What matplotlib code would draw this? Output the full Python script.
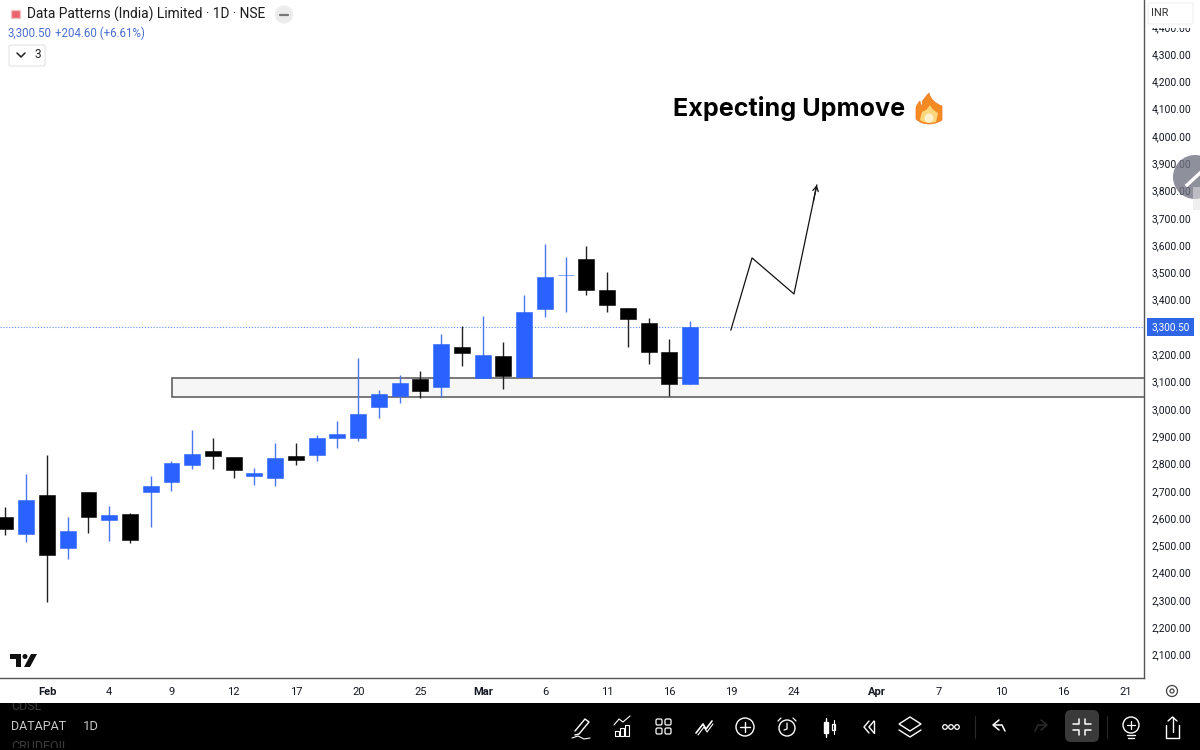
import matplotlib
matplotlib.use("Agg")
import matplotlib.pyplot as plt
from matplotlib.patches import Rectangle, Circle, FancyBboxPatch, PathPatch, Polygon
from matplotlib.path import Path

plt.rcParams['font.family'] = ['Roboto', 'DejaVu Sans']

# daily candles
opens = [2605, 2541, 2685, 2489, 2695, 2593, 2614, 2696, 2733, 2796, 2846, 2823, 2754, 2748, 2826, 2830, 2895,
         2893, 3008, 3048, 3110, 3081, 3226, 3114, 3193, 3118, 3365, 3489, 3550, 3437, 3368, 3315, 3210, 3092]
highs = [2640, 2760, 2831, 2605, 2697, 2645, 2618, 2754, 2810, 2923, 2892, 2823, 2785, 2874, 2876, 2905, 2956,
         3186, 3069, 3124, 3139, 3274, 3305, 3341, 3244, 3417, 3604, 3555, 3597, 3500, 3368, 3332, 3256, 3323]
lows = [2538, 2512, 2294, 2450, 2544, 2516, 2508, 2569, 2698, 2781, 2781, 2748, 2720, 2719, 2793, 2808, 2856,
        2882, 2967, 3023, 3039, 3045, 3158, 3114, 3074, 3118, 3338, 3356, 3417, 3355, 3226, 3166, 3047, 3092]
closes = [2559, 2666, 2465, 2554, 2603, 2612, 2519, 2718, 2801, 2835, 2826, 2777, 2764, 2821, 2812, 2893, 2909,
          2981, 3055, 3094, 3064, 3237, 3205, 3199, 3122, 3354, 3484, 3492, 3436, 3379, 3328, 3208, 3090, 3300.5]

x_tick_pos = [2, 5, 8, 11, 14, 17, 20, 23, 26, 29, 32, 35, 38, 42, 45, 48, 51, 54]
x_tick_labels = ['Feb', '4', '9', '12', '17', '20', '25', 'Mar', '6', '11', '16', '19', '24', 'Apr', '7', '10', '16', '21']
y_ticks = list(range(2100, 4500, 100))

zone_x = 8.02
zone_low = 3044
zone_high = 3113
last_price = 3300.5
path_x = [34.96, 35.98, 38.0, 39.1]
path_y = [3289, 3553, 3421, 3820]

BLUE = '#2962ff'
BLACK = '#000000'
TEXT = '#131722'

fig = plt.figure(figsize=(12, 7.5), dpi=100, facecolor='white')
ax = fig.add_axes([0, 72 / 750, 1144 / 1200, 678 / 750])
ax.set_xlim(-0.265, 54.87)
ax.set_ylim(2014, 4498)

ax.add_patch(Rectangle((zone_x, zone_low), 60, zone_high - zone_low, facecolor='#f6f6f6',
                       edgecolor='#555555', linewidth=1.1, zorder=1))
ax.axhline(last_price, color='#5b8ef0', linestyle=(0, (1, 1.6)), linewidth=0.8, zorder=1)

for i in range(len(opens)):
    up = closes[i] >= opens[i]
    color = BLUE if up else BLACK
    ax.vlines(i, lows[i], highs[i], color='#4a78f0' if up else '#222222', linewidth=1.0, zorder=2)
    ax.bar(i, abs(closes[i] - opens[i]), bottom=min(opens[i], closes[i]), width=0.77, color=color,
           edgecolor=color, linewidth=0.4, zorder=3)

ax.plot(path_x, path_y, color='#111111', linewidth=0.9, zorder=4)
ax.annotate('', xy=(path_x[-1], path_y[-1]),
            xytext=(path_x[-2] + 0.85 * (path_x[-1] - path_x[-2]), path_y[-2] + 0.85 * (path_y[-1] - path_y[-2])),
            arrowprops=dict(arrowstyle='->,head_width=0.2,head_length=0.35', color='#111111', linewidth=0.9,
                            shrinkA=0, shrinkB=0))

ax.text(32.17, 4102, 'Expecting Upmove', family=['Inter', 'DejaVu Sans'], fontsize=18.1, fontweight='bold',
        color='#000000', ha='left', va='center', zorder=5)

ax.yaxis.tick_right()
ax.set_yticks(y_ticks)
ax.set_yticklabels([f'{v:,.2f}' for v in y_ticks], fontsize=7.4, color=TEXT)
ax.set_xticks(x_tick_pos)
ax.set_xticklabels(x_tick_labels, fontsize=8.0, color=TEXT)
for lab in ax.get_xticklabels():
    if lab.get_text() in ('Feb', 'Mar', 'Apr'):
        lab.set_fontweight('bold')
ax.tick_params(axis='y', length=0, pad=5.5)
ax.tick_params(axis='x', length=0, pad=6.5)
for s in ('top', 'left'):
    ax.spines[s].set_visible(False)
for s in ('right', 'bottom'):
    ax.spines[s].set_color('#555555')
    ax.spines[s].set_linewidth(1.0)

ax.annotate(f'{last_price:,.2f}', xy=(1.0, last_price), xycoords=ax.get_yaxis_transform(), xytext=(5.5, 0),
            textcoords='offset points', fontsize=7.2, color='white', ha='left', va='center', annotation_clip=False,
            zorder=10, bbox=dict(boxstyle='square,pad=0.42', facecolor='#2f66e8', edgecolor='none'))
ax.get_yticklabels()[12].set_visible(False)

# screenshot chrome, in pixels
ov = fig.add_axes([0, 0, 1, 1])
ov.set_xlim(0, 1200)
ov.set_ylim(750, 0)
ov.axis('off')
ov.patch.set_alpha(0)


def line(xs, ys, color='white', lw=1.0):
    ov.plot(xs, ys, color=color, linewidth=lw, solid_capstyle='round')


# header
ov.add_patch(Rectangle((11, 10), 9, 8, facecolor='#e8646a', edgecolor='#f4c2c4', linewidth=1))
ov.text(27, 14, 'Data Patterns (India) Limited · 1D · NSE', fontsize=9.9, color='#1c1c1c', ha='left', va='center')
ov.add_patch(Circle((284, 14.5), 9, facecolor='#ececec', edgecolor='none'))
line([280, 288], [14.5, 14.5], '#777777', 1.6)
ov.text(7, 33, '3,300.50', fontsize=8.3, color='#4a6fd0', ha='left', va='center')
ov.text(55, 33, '+204.60 (+6.61%)', fontsize=8.3, color='#4a6fd0', ha='left', va='center')
ov.add_patch(FancyBboxPatch((9, 45), 36, 21, boxstyle='round,pad=0,rounding_size=2', facecolor='white',
                            edgecolor='#e6e6e6', linewidth=0.9))
line([17, 21, 25], [53, 57, 53], '#222222', 1.1)
ov.text(38, 55, '3', fontsize=8.6, color='#222222', ha='center', va='center')

# fire emoji
flame = Path([(929, 93), (931, 102), (942, 106), (942, 113), (942, 120), (936, 124), (929, 124),
              (921, 124), (916, 119), (916, 112), (916, 107), (918, 103), (920, 101), (920, 104), (922, 106), (923, 106),
              (922, 102), (925, 97), (929, 93), (929, 93)],
             [Path.MOVETO, Path.CURVE3, Path.CURVE3, Path.CURVE3, Path.CURVE3, Path.CURVE3, Path.CURVE3,
              Path.CURVE3, Path.CURVE3, Path.CURVE3, Path.CURVE3, Path.CURVE3, Path.CURVE3, Path.CURVE3, Path.CURVE3, Path.CURVE3,
              Path.CURVE3, Path.CURVE3, Path.CURVE3, Path.CLOSEPOLY])
ov.add_patch(PathPatch(flame, facecolor='#f58a22', edgecolor='#ee7a2a', linewidth=0.5))
inner = Path([(930, 105), (932, 110), (938, 113), (937, 118), (936, 122), (932, 123), (929, 123),
              (924, 123), (920, 120), (921, 115), (922, 112), (924, 111), (926, 110), (928, 108), (930, 105), (930, 105)],
             [Path.MOVETO, Path.CURVE3, Path.CURVE3, Path.CURVE3, Path.CURVE3, Path.CURVE3, Path.CURVE3,
              Path.CURVE3, Path.CURVE3, Path.CURVE3, Path.CURVE3, Path.CURVE3, Path.CURVE3, Path.CURVE3, Path.CURVE3, Path.CLOSEPOLY])
ov.add_patch(PathPatch(inner, facecolor='#fcd67a', edgecolor='none'))
ov.add_patch(Circle((929, 118), 4.5, facecolor='#fdf1d0', edgecolor='none'))

# tradingview logo
ov.add_patch(Polygon([(10, 654), (21, 654), (21, 667), (16, 667), (16, 659), (10, 659)], facecolor='#111111', edgecolor='none'))
ov.add_patch(Circle((25, 656.5), 2.5, facecolor='#111111', edgecolor='none'))
ov.add_patch(Polygon([(31, 654), (37, 654), (30, 667), (24, 667)], facecolor='#111111', edgecolor='none'))

# currency box and floating button
ov.add_patch(Rectangle((1147, 2), 48, 25.5, facecolor='white', edgecolor='none', zorder=6))
ov.add_patch(FancyBboxPatch((1148, 3), 45, 21, boxstyle='round,pad=0,rounding_size=2', facecolor='white',
                            edgecolor='#f0f0f0', linewidth=0.8, zorder=6))
ov.text(1151.5, 13.5, 'INR', fontsize=7.8, color='#333333', ha='left', va='center', zorder=7)
line([1187, 1189, 1191], [13, 15, 13], '#555555', 0.9)
ov.add_patch(Circle((1195, 177), 22, facecolor='#6f7180', edgecolor='none', alpha=0.78, zorder=6))
ov.plot([1187, 1200], [185, 173], color='white', linewidth=2.4, zorder=7)
ov.add_patch(Rectangle((1193, 187), 7, 23, facecolor='#e2e2e2', edgecolor='none', alpha=0.55, zorder=6))

# settings icon on the axis corner
ov.add_patch(Circle((1172, 691), 5.5, facecolor='none', edgecolor='#444444', linewidth=0.9))
ov.add_patch(Circle((1172, 691), 2, facecolor='none', edgecolor='#444444', linewidth=0.9))

# bottom toolbar
ov.add_patch(Rectangle((0, 703), 1200, 47, facecolor='#000000', edgecolor='none'))
side_clip = Rectangle((0, 703), 67, 45, transform=ov.transData)
for label, ypos, col in [('CDSL', 706, '#3c3c3c'), ('DATAPATNS', 726, '#c8c8c8'), ('CRUDEOIL', 747, '#3c3c3c')]:
    t = ov.text(11, ypos, label, fontsize=9, color=col, ha='left', va='center')
    t.set_clip_on(True)
    t.set_clip_path(side_clip)
ov.text(83, 726, '1D', fontsize=9.4, color='#c8c8c8', ha='left', va='center')

# pencil
line([575, 585, 589, 579, 575], [731, 719, 722, 734, 735])
line([572, 578, 584, 590], [738, 736, 739, 738], lw=0.8)
# chart
for bx, bh in [(615, 5), (620, 8), (625, 11)]:
    ov.add_patch(Rectangle((bx, 736 - bh), 4, bh, facecolor='none', edgecolor='white', linewidth=0.8))
line([614, 619, 623, 630], [725, 719, 722, 716], lw=0.8)
# grid
for gx in (656, 665):
    for gy in (719, 728):
        ov.add_patch(FancyBboxPatch((gx, gy), 6, 6, boxstyle='round,pad=0,rounding_size=1.5', facecolor='none',
                                    edgecolor='white', linewidth=0.9))
# wave
line([696, 703, 706, 712], [733, 724, 729, 721], lw=1.2)
line([698, 704, 707, 713], [735, 727, 732, 724], lw=0.8)
# plus
ov.add_patch(Circle((745, 727), 9, facecolor='none', edgecolor='white', linewidth=1))
line([745, 745], [722, 732])
line([740, 750], [727, 727])
# alarm
ov.add_patch(Circle((787, 728), 8, facecolor='none', edgecolor='white', linewidth=1))
line([787, 787, 784], [723, 729, 730], lw=0.9)
line([778, 781], [721, 718], lw=0.9)
line([793, 796], [718, 721], lw=0.9)
# candles
ov.add_patch(Rectangle((824, 722), 4, 11, facecolor='white', edgecolor='white'))
line([826, 826], [718, 737])
ov.add_patch(Rectangle((832, 724), 3, 6, facecolor='none', edgecolor='white', linewidth=0.9))
line([833.5, 833.5], [720, 734], lw=0.8)
# rewind
line([869, 864, 869], [721, 727, 733])
line([874, 869, 874], [721, 727, 733])
line([874, 874], [721, 733])
# layers
ov.add_patch(Polygon([(910, 717), (921, 724), (910, 731), (899, 724)], facecolor='none', edgecolor='white', linewidth=1))
line([899, 910, 921], [730, 737, 730])
# dots
for dx in (945, 951, 957):
    ov.add_patch(Circle((dx, 727), 2.3, facecolor='none', edgecolor='white', linewidth=0.9))
line([975, 975], [716, 738], '#2a2a2a', 0.8)
# undo, redo
line([999, 993, 999], [720, 725, 730], lw=1.1)
line([994, 1002, 1005], [725, 725, 731], lw=1.1)
line([1041, 1047, 1041], [720, 725, 730], '#2c2c2c', 1.1)
line([1046, 1038, 1035], [725, 725, 731], '#2c2c2c', 1.1)
# minimise button
ov.add_patch(FancyBboxPatch((1065, 710), 34, 32, boxstyle='round,pad=0,rounding_size=6', facecolor='#3a3a3a', edgecolor='none'))
line([1079, 1079, 1073], [719, 724, 724], lw=1.1)
line([1085, 1085, 1091], [719, 724, 724], lw=1.1)
line([1079, 1079, 1073], [735, 730, 730], lw=1.1)
line([1085, 1085, 1091], [735, 730, 730], lw=1.1)
line([1107, 1107], [716, 738], '#2a2a2a', 0.8)
# bulb
ov.add_patch(Circle((1131, 725), 8, facecolor='none', edgecolor='white', linewidth=1))
line([1131, 1131], [721, 729], lw=0.9)
line([1127, 1135], [725, 725], lw=0.9)
line([1127, 1135], [735, 735], lw=1)
line([1128, 1134], [738, 738], lw=1)
# share
line([1166, 1166, 1179, 1179], [725, 738, 738, 725])
line([1172.5, 1172.5], [732, 717])
line([1168, 1172.5, 1177], [721, 717, 721])

fig.savefig('out.png', dpi=100)
